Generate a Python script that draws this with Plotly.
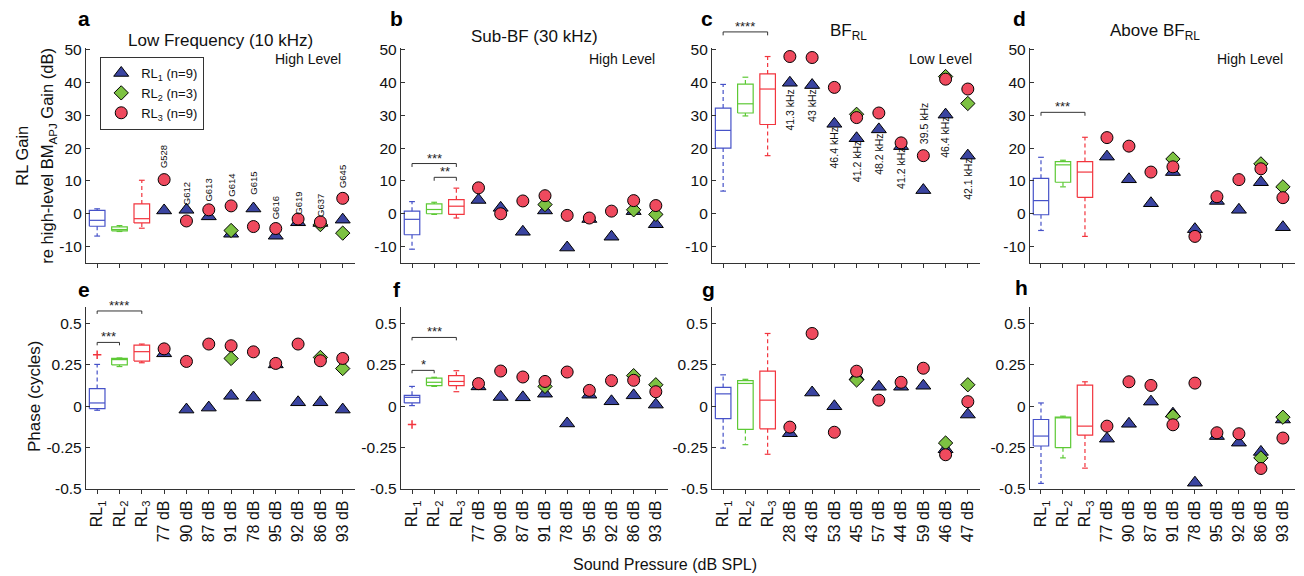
import plotly.graph_objects as go

# category labels
rl_labels = ["RL<sub>1</sub>", "RL<sub>2</sub>", "RL<sub>3</sub>"]
high_levels = ["77 dB", "90 dB", "87 dB", "91 dB", "78 dB", "95 dB", "92 dB", "86 dB", "93 dB"]
low_levels = ["28 dB", "43 dB", "53 dB", "45 dB", "57 dB", "44 dB", "59 dB", "46 dB", "47 dB"]

# per-animal labels (panel a) and BF labels (panel c)
animals = ["G528", "G612", "G613", "G614", "G615", "G616", "G619", "G637", "G645"]
animal_label_y = [17.3, 6.1, 7.3, 8.6, 9.3, 1.9, 3.1, 2.5, 11.4]
bf_freqs = ["41.3 kHz", "43 kHz", "46.4 kHz", "41.2 kHz", "48.2 kHz", "41.2 kHz", "39.5 kHz", "46.4 kHz", "42.1 kHz"]
bf_freq_y = [31.7, 32.9, 20.0, 15.9, 18.2, 13.7, 27.4, 23.3, 10.6]

# box stats per group: [lower whisker, q1, median, q3, upper whisker]
# --- gain (dB) ---
a_box = [[-6.8, -3.8, -2.0, 1.0, 1.5], [-5.4, -5.2, -4.8, -4.0, -3.6], [-4.4, -2.8, -1.5, 3.0, 10.2]]
a_rl1 = [1.0, 1.2, -0.8, -6.1, 1.6, -6.7, -2.6, -2.8, -1.8]
a_rl2 = [None, None, None, -5.1, None, None, None, -3.3, -5.9]
a_rl3 = [10.4, -2.2, 1.2, 2.4, -3.9, -4.5, -1.6, -2.5, 4.7]

b_box = [[-10.8, -6.4, -1.7, 0.8, 3.7], [-0.2, 0.0, 1.3, 3.0, 3.5], [-1.3, -0.2, 2.3, 4.3, 7.8]]
b_rl1 = [4.2, 1.8, -5.5, 1.0, -10.3, -1.6, -7.0, 0.8, -3.2]
b_rl2 = [None, None, None, 2.8, None, None, None, 1.2, -0.2]
b_rl3 = [7.9, 0.0, 3.9, 5.5, -0.5, -1.3, 0.8, 4.0, 2.5]

c_box = [[6.9, 20.0, 25.4, 32.2, 39.4], [29.8, 30.7, 33.5, 39.5, 41.6], [17.7, 27.2, 38.0, 42.6, 47.9]]
c_rl1 = [39.9, 39.2, 27.4, 23.0, 25.7, 20.6, 7.2, 30.2, 17.7]
c_rl2 = [None, None, None, 30.3, None, None, None, 41.8, 33.6]
c_rl3 = [47.9, 47.6, 38.5, 29.3, 30.7, 21.6, 17.7, 41.0, 38.0]

d_box = [[-5.1, -0.3, 4.0, 10.8, 17.2], [8.2, 9.6, 14.9, 15.9, 16.3], [-6.9, 5.0, 12.7, 15.9, 23.3]]
d_rl1 = [17.4, 10.5, 3.2, 12.7, -4.7, 3.9, 1.2, 9.6, -4.1]
d_rl2 = [None, None, None, 16.7, None, None, None, 15.2, 8.2]
d_rl3 = [23.2, 20.6, 12.7, 14.3, -6.9, 5.2, 10.4, 13.7, 4.9]

# --- phase (cycles) ---
e_box = [[-0.024, -0.014, 0.02, 0.107, 0.253], [0.24, 0.25, 0.282, 0.289, 0.292], [0.263, 0.273, 0.33, 0.37, 0.376]]
e_rl1 = [0.32, -0.02, -0.008, 0.063, 0.053, 0.253, 0.024, 0.024, -0.02]
e_rl2 = [None, None, None, 0.289, None, None, None, 0.295, 0.228]
e_rl3 = [0.347, 0.271, 0.376, 0.366, 0.329, 0.259, 0.376, 0.275, 0.289]
e_outliers = [0.311]

f_box = [[0.004, 0.02, 0.054, 0.066, 0.12], [0.12, 0.125, 0.145, 0.17, 0.175], [0.088, 0.125, 0.15, 0.185, 0.215]]
f_rl1 = [0.12, 0.056, 0.054, 0.076, -0.104, 0.07, 0.03, 0.066, 0.01]
f_rl2 = [None, None, None, 0.12, None, None, None, 0.185, 0.13]
f_rl3 = [0.137, 0.213, 0.177, 0.15, 0.207, 0.096, 0.155, 0.157, 0.088]
f_outliers = [-0.11]

g_box = [[-0.253, -0.075, 0.075, 0.114, 0.19], [-0.232, -0.14, 0.138, 0.155, 0.163], [-0.29, -0.136, 0.037, 0.212, 0.44]]
g_rl1 = [-0.163, 0.083, 0.0, 0.18, 0.118, 0.118, 0.124, -0.26, -0.05]
g_rl2 = [None, None, None, 0.159, None, None, None, -0.222, 0.13]
g_rl3 = [-0.126, 0.44, -0.157, 0.212, 0.037, 0.145, 0.23, -0.293, 0.028]

h_box = [[-0.466, -0.24, -0.18, -0.08, 0.02], [-0.312, -0.25, -0.07, -0.065, -0.06], [-0.374, -0.174, -0.12, 0.128, 0.148]]
h_rl1 = [-0.196, -0.106, 0.028, -0.045, -0.462, -0.18, -0.22, -0.276, -0.08]
h_rl2 = [None, None, None, -0.06, None, None, None, -0.312, -0.066]
h_rl3 = [-0.12, 0.148, 0.126, -0.112, 0.14, -0.16, -0.166, -0.376, -0.192]

# significance brackets: (from group, to group, height, stars)
b_brackets = [(1, 3, 15.3, "***"), (2, 3, 11.1, "**")]
c_brackets = [(1, 3, 55.4, "****")]
d_brackets = [(1, 3, 30.9, "***")]
e_brackets = [(1, 3, 0.576, "****"), (1, 2, 0.386, "***")]
f_brackets = [(1, 3, 0.416, "***"), (1, 2, 0.217, "*")]

gain_range = [-15, 50.5]
phase_range = [-0.5, 0.6]

panels = [
    dict(box=a_box, pts=(a_rl1, a_rl2, a_rl3), levels=high_levels, out=[], br=[], yr=gain_range),
    dict(box=b_box, pts=(b_rl1, b_rl2, b_rl3), levels=high_levels, out=[], br=b_brackets, yr=gain_range),
    dict(box=c_box, pts=(c_rl1, c_rl2, c_rl3), levels=low_levels, out=[], br=c_brackets, yr=gain_range),
    dict(box=d_box, pts=(d_rl1, d_rl2, d_rl3), levels=high_levels, out=[], br=d_brackets, yr=gain_range),
    dict(box=e_box, pts=(e_rl1, e_rl2, e_rl3), levels=high_levels, out=e_outliers, br=e_brackets, yr=phase_range),
    dict(box=f_box, pts=(f_rl1, f_rl2, f_rl3), levels=high_levels, out=f_outliers, br=f_brackets, yr=phase_range),
    dict(box=g_box, pts=(g_rl1, g_rl2, g_rl3), levels=low_levels, out=[], br=[], yr=phase_range),
    dict(box=h_box, pts=(h_rl1, h_rl2, h_rl3), levels=high_levels, out=[], br=[], yr=phase_range),
]

FONT = "Liberation Sans, Arial, Helvetica, sans-serif"
axis_color = "#333333"
box_colors = ["#4652C8", "#5DC935", "#F2353E"]
marker_colors = ["#3A44A0", "#7DC242", "#EF4A5E"]
symbols = ["triangle-up", "diamond", "circle"]
sizes = [13, 11, 12]
names = ["RL<sub>1</sub> (n=9)", "RL<sub>2</sub> (n=3)", "RL<sub>3</sub> (n=9)"]
bw, cw = 0.35, 0.13


def ax_id(k):
    return "" if k == 1 else str(k)


fig = go.Figure()
shapes, annotations = [], []

for k, p in enumerate(panels, start=1):
    xa, ya = "x" + ax_id(k), "y" + ax_id(k)
    # boxplots, MATLAB style
    for i, (lo, q1, med, q3, hi) in enumerate(p["box"]):
        c = i + 1
        col = box_colors[i]
        fig.add_trace(go.Scatter(
            x=[c - bw, c + bw, c + bw, c - bw, c - bw, None, c - bw, c + bw, None,
               c - cw, c + cw, None, c - cw, c + cw],
            y=[q1, q1, q3, q3, q1, None, med, med, None, lo, lo, None, hi, hi],
            mode="lines", line=dict(color=col, width=1.2),
            showlegend=False, hoverinfo="skip", xaxis=xa, yaxis=ya))
        fig.add_trace(go.Scatter(
            x=[c, c, None, c, c], y=[q3, hi, None, q1, lo],
            mode="lines", line=dict(color=col, width=1.2, dash="4px,3px"),
            showlegend=False, hoverinfo="skip", xaxis=xa, yaxis=ya))
    if p["out"]:
        fig.add_trace(go.Scatter(
            x=[1] * len(p["out"]), y=p["out"], mode="markers",
            marker=dict(symbol="cross-thin", size=6, line=dict(color="#F2353E", width=1.5)),
            showlegend=False, hoverinfo="skip", xaxis=xa, yaxis=ya))
    # individual animals
    xs = list(range(4, 4 + len(p["levels"])))
    for pts, sym, col, sz, nm in zip(p["pts"], symbols, marker_colors, sizes, names):
        fig.add_trace(go.Scatter(
            x=xs, y=pts, mode="markers", name=nm,
            marker=dict(symbol=sym, size=sz, color=col, line=dict(color="black", width=1)),
            showlegend=(k == 1), cliponaxis=False, xaxis=xa, yaxis=ya))
    # brackets
    lo_r, hi_r = p["yr"]
    drop = 0.016
    for i0, i1, yv, stars in p["br"]:
        fr = (yv - lo_r) / (hi_r - lo_r)
        shapes.append(dict(type="path", xref=xa, yref=f"{ya} domain",
                           path=f"M {i0},{fr - drop} L {i0},{fr} L {i1},{fr} L {i1},{fr - drop}",
                           line=dict(color="#333333", width=1)))
        annotations.append(dict(x=(i0 + i1) / 2, y=fr, xref=xa, yref=f"{ya} domain",
                                text=stars, showarrow=False, xanchor="center", yanchor="bottom",
                                yshift=-4, font=dict(size=13, color="#222")))

# animal ids (panel a)
for i, (lab, yv) in enumerate(zip(animals, animal_label_y)):
    annotations.append(dict(x=4 + i, y=yv, xref="x", yref="y", text=lab, textangle=-90,
                            showarrow=False, xanchor="center", yanchor="middle",
                            font=dict(size=9.5, color="#111")))
# BF frequencies (panel c)
for i, (lab, yv) in enumerate(zip(bf_freqs, bf_freq_y)):
    annotations.append(dict(x=4 + i, y=yv, xref="x3", yref="y3", text=lab, textangle=-90,
                            showarrow=False, xanchor="center", yanchor="middle",
                            font=dict(size=10.5, color="#111")))

# titles, level tags, panel letters
titles = ["Low Frequency (10 kHz)", "Sub-BF (30 kHz)", "BF<sub>RL</sub>", "Above BF<sub>RL</sub>"]
title_x = [0.5, 0.5, 0.51, 0.47]
title_y = [1.018, 1.025, 1.036, 1.036]
for k in range(4):
    annotations.append(dict(x=title_x[k], y=title_y[k], xref=f"x{ax_id(k + 1)} domain", yref="paper",
                            text=titles[k], showarrow=False, xanchor="center", yanchor="middle",
                            font=dict(size=17, color="#111")))
tags = ["High Level", "High Level", "Low Level", "High Level"]
tag_x = [0.955, 0.959, 0.978, 0.962]
for k in range(4):
    annotations.append(dict(x=tag_x[k], y=0.947, xref=f"x{ax_id(k + 1)} domain",
                            yref=f"y{ax_id(k + 1)} domain",
                            text=tags[k], showarrow=False, xanchor="right", yanchor="middle",
                            font=dict(size=14, color="#111")))
letters = ["a", "b", "c", "d", "e", "f", "g", "h"]
letter_x = [-0.0017, 0.257, 0.5136, 0.7725, -0.0017, 0.2576, 0.5145, 0.7734]
letter_y = [1.066, 1.066, 1.066, 1.068, 0.4535, 0.4535, 0.4535, 0.457]
for lt, lx, ly in zip(letters, letter_x, letter_y):
    annotations.append(dict(x=lx, y=ly, xref="paper", yref="paper", text=f"<b>{lt}</b>",
                            showarrow=False, xanchor="center", yanchor="middle",
                            font=dict(size=21, color="black")))
# axis titles
annotations.append(dict(x=0.479, y=-0.172, xref="paper", yref="paper",
                        text="Sound Pressure (dB SPL)", showarrow=False,
                        xanchor="center", yanchor="middle", font=dict(size=16, color="#111")))
annotations.append(dict(x=-0.0529, y=0.756, xref="paper", yref="paper", text="RL Gain",
                        textangle=-90, showarrow=False, xanchor="center", yanchor="middle",
                        font=dict(size=16.5, color="#111")))
annotations.append(dict(x=-0.0314, y=0.756, xref="paper", yref="paper",
                        text="re high-level BM<sub>APJ</sub> Gain (dB)",
                        textangle=-90, showarrow=False, xanchor="center", yanchor="middle",
                        font=dict(size=16.5, color="#111")))
annotations.append(dict(x=-0.043, y=0.2086, xref="paper", yref="paper", text="Phase (cycles)",
                        textangle=-90, showarrow=False, xanchor="center", yanchor="middle",
                        font=dict(size=17, color="#111")))

x_domains = [[0, 0.2225], [0.2605, 0.4814], [0.5178, 0.7395], [0.7808, 1]]
top_dom, bot_dom = [0.5125, 1], [0, 0.4127]

# the page body adds an 8px offset, margins compensate for it
layout = dict(
    width=1304, height=576,
    margin=dict(l=78, r=17, t=40, b=95),
    paper_bgcolor="white", plot_bgcolor="white",
    font=dict(family=FONT, color="#111"),
    showlegend=True, hovermode=False,
    legend=dict(x=0.0116, y=0.98, xanchor="left", yanchor="top",
                bordercolor="#333", borderwidth=1.2, bgcolor="white",
                font=dict(size=13), tracegroupgap=0, itemwidth=30),
    shapes=shapes, annotations=annotations,
)
for k, p in enumerate(panels, start=1):
    col = (k - 1) % 4
    top = k <= 4
    layout["xaxis" + ax_id(k)] = dict(
        domain=x_domains[col], anchor="y" + ax_id(k), range=[0.5, 12.55],
        tickvals=list(range(1, 4 + len(p["levels"]))), ticktext=rl_labels + p["levels"],
        showticklabels=not top, tickangle=-90, ticks="outside", ticklen=4,
        tickcolor=axis_color, showline=True, linecolor=axis_color, linewidth=1.3,
        showgrid=False, zeroline=False, automargin=False, tickfont=dict(size=16))
    if top:
        yt = dict(tickvals=[-10, 0, 10, 20, 30, 40, 50], ticktext=["-10", "0", "10", "20", "30", "40", "50"])
    else:
        yt = dict(tickvals=[-0.5, -0.25, 0, 0.25, 0.5], ticktext=["-0.5", "-0.25", "0", "0.25", "0.5"])
    layout["yaxis" + ax_id(k)] = dict(
        domain=top_dom if top else bot_dom, anchor="x" + ax_id(k), range=p["yr"],
        ticks="inside", ticklen=4, tickcolor=axis_color, showline=True,
        linecolor=axis_color, linewidth=1.3, showgrid=False, zeroline=False,
        automargin=False, tickfont=dict(size=15.5), **yt)

fig.update_layout(**layout)
fig.write_html("out.html")
